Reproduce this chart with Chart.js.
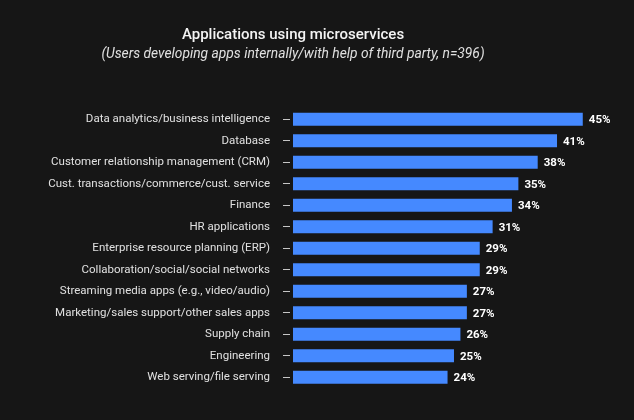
<!DOCTYPE html>
<html>
<head>
<meta charset="utf-8">
<script src="https://cdn.jsdelivr.net/npm/chart.js@4/dist/chart.umd.min.js"></script>
<style>
  html, body { margin: 0; padding: 0; background: #161616; }
  #wrap { width: 634px; height: 420px; }
</style>
</head>
<body>
<div id="wrap"><canvas id="appsChart"></canvas></div>
<script>
const categories = [
  "Data analytics/business intelligence",
  "Database",
  "Customer relationship management (CRM)",
  "Cust. transactions/commerce/cust. service",
  "Finance",
  "HR applications",
  "Enterprise resource planning (ERP)",
  "Collaboration/social/social networks",
  "Streaming media apps (e.g., video/audio)",
  "Marketing/sales support/other sales apps",
  "Supply chain",
  "Engineering",
  "Web serving/file serving",
];
const shares = [45, 41, 38, 35, 34, 31, 29, 29, 27, 27, 26, 25, 24];

const FONT = "Roboto, 'Noto Sans', sans-serif";

// value labels at the end of each bar
const valueLabels = {
  id: "valueLabels",
  afterDatasetsDraw(chart) {
    const ctx = chart.ctx;
    const meta = chart.getDatasetMeta(0);
    ctx.save();
    ctx.font = "bold 11.5px " + FONT;
    ctx.fillStyle = "#ffffff";
    ctx.textAlign = "left";
    ctx.textBaseline = "middle";
    meta.data.forEach((bar, i) => {
      ctx.fillText(shares[i] + "%", bar.x + 6, bar.y + 1);
    });
    ctx.restore();
  },
};

const loadChart = () => {
  new Chart(document.getElementById("appsChart"), {
    type: "bar",
    data: {
      labels: categories,
      datasets: [
        {
          data: shares,
          backgroundColor: "#4589ff",
          barPercentage: 0.6,
          categoryPercentage: 1,
        },
      ],
    },
    options: {
      indexAxis: "y",
      responsive: true,
      maintainAspectRatio: false,
      animation: false,
      layout: { padding: { left: 0, right: 48, top: 2, bottom: 32 } },
      scales: {
        x: {
          display: false,
          min: 0,
          max: 45.5,
        },
        y: {
          afterFit: (scale) => {
            scale.width = 293;
          },
          border: { display: false },
          grid: {
            offset: false,
            drawOnChartArea: false,
            color: "#c6c6c6",
            tickLength: 10,
            tickBorderDash: [7, 3],
          },
          ticks: {
            color: "#e0e0e0",
            padding: 13,
            font: { family: FONT, size: 11.5 },
          },
        },
      },
      plugins: {
        legend: { display: false },
        tooltip: { enabled: false },
        title: {
          display: true,
          text: "Applications using microservices",
          color: "#f4f4f4",
          font: { family: FONT, size: 15, weight: 500 },
          padding: { top: 24, bottom: 2 },
        },
        subtitle: {
          display: true,
          text: "(Users developing apps internally/with help of third party, n=396)",
          color: "#e0e0e0",
          font: { family: FONT, size: 13.8, style: "italic" },
          padding: { top: 0, bottom: 46 },
        },
      },
    },
    plugins: [valueLabels],
  });
};

loadChart();
</script>
</body>
</html>
